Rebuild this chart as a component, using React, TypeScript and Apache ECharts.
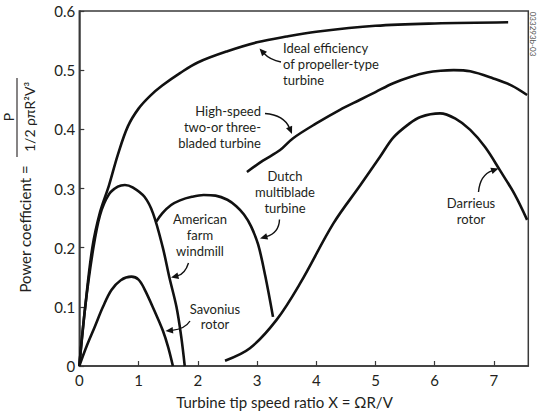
import React, { useEffect, useRef } from "react";
import * as echarts from "echarts";

// ---- data ----
const idealX = [0, 0.1, 0.22, 0.35, 0.5, 0.65, 0.82, 1.0, 1.2, 1.4, 1.7, 2.0, 2.5, 3.0, 3.5, 4.0, 5.0, 6.0, 7.24];
const idealY = [0, 0.1, 0.2, 0.26, 0.305, 0.357, 0.405, 0.435, 0.457, 0.474, 0.495, 0.513, 0.532, 0.547, 0.557, 0.565, 0.575, 0.579, 0.581];

const highX = [2.83, 3.1, 3.39, 3.61, 4.0, 4.4, 4.74, 5.0, 5.3, 5.6, 5.87, 6.1, 6.32, 6.6, 6.99, 7.3, 7.56];
const highY = [0.328, 0.347, 0.365, 0.385, 0.41, 0.433, 0.45, 0.463, 0.478, 0.489, 0.496, 0.499, 0.5, 0.498, 0.486, 0.474, 0.458];

const americanX = [0, 0.1, 0.23, 0.35, 0.5, 0.65, 0.77, 0.9, 1.1, 1.245, 1.41, 1.52, 1.64, 1.72, 1.78];
const americanY = [0, 0.1, 0.195, 0.255, 0.29, 0.303, 0.306, 0.302, 0.286, 0.258, 0.2, 0.15, 0.1, 0.05, 0];

const savoniusX = [0, 0.13, 0.26, 0.4, 0.54, 0.7, 0.88, 1.0, 1.1, 1.27, 1.41, 1.5, 1.58];
const savoniusY = [0, 0.035, 0.066, 0.1, 0.128, 0.145, 0.151, 0.146, 0.13, 0.093, 0.06, 0.032, 0];

const dutchX = [1.3, 1.4, 1.55, 1.7, 1.9, 2.1, 2.3, 2.5, 2.65, 2.78, 2.9, 3.02, 3.14, 3.27];
const dutchY = [0.244, 0.258, 0.272, 0.28, 0.286, 0.289, 0.288, 0.281, 0.27, 0.256, 0.236, 0.205, 0.152, 0.083];

const darrieusX = [2.46, 2.88, 3.33, 3.73, 4.29, 4.74, 5.08, 5.3, 5.55, 5.76, 6.09, 6.35, 6.6, 6.85, 7.1, 7.35, 7.56];
const darrieusY = [0.009, 0.03, 0.078, 0.14, 0.241, 0.305, 0.354, 0.386, 0.408, 0.421, 0.427, 0.418, 0.399, 0.37, 0.331, 0.29, 0.247];

const xAxisMax = 7.58;
const yAxisMax = 0.6;

const FONT = "Lato, 'Noto Sans', 'DejaVu Sans', sans-serif";
const INK = "#231f20";
const NOTE_SIZE = 13;
const NOTE_LINE = 15.6;

const pairs = (xs: number[], ys: number[]) => xs.map((x, i) => [x, ys[i]]);

function arrow(x1: number, y1: number, cx: number, cy: number, x2: number, y2: number) {
  const ang = Math.atan2(y2 - cy, x2 - cx);
  const L = 7.5;
  const W = 3.3;
  const c = Math.cos(ang);
  const s = Math.sin(ang);
  const bx = x2 - L * c;
  const by = y2 - L * s;
  return [
    {
      type: "bezierCurve",
      shape: { x1, y1, x2: bx + c * 1, y2: by + s * 1, cpx1: cx, cpy1: cy },
      style: { stroke: "#111", lineWidth: 1.4, fill: null },
      silent: true,
    },
    {
      type: "polygon",
      shape: { points: [[x2, y2], [bx - W * s, by + W * c], [bx + W * s, by - W * c]] },
      style: { fill: "#111" },
      silent: true,
    },
  ];
}

function label(text: string, x: number, y: number, align: string = "center", size = NOTE_SIZE) {
  return {
    type: "text",
    x,
    y,
    silent: true,
    style: {
      text,
      fill: INK,
      font: `${size}px ${FONT}`,
      fontSize: size,
      fontFamily: FONT,
      lineHeight: NOTE_LINE,
      align,
      textAlign: align,
      verticalAlign: "middle",
      textVerticalAlign: "middle",
    },
  };
}

function rotLabel(text: string, x: number, y: number, size: number, rotation: number, color = INK) {
  return {
    type: "text",
    x,
    y,
    rotation,
    silent: true,
    style: {
      text,
      fill: color,
      font: `${size}px ${FONT}`,
      fontSize: size,
      fontFamily: FONT,
      align: "center",
      textAlign: "center",
      verticalAlign: "middle",
      textVerticalAlign: "middle",
    },
  };
}

export default function App() {
  const ref = useRef<HTMLDivElement>(null);

  useEffect(() => {
    if (!ref.current) return;
    const chart = echarts.init(ref.current, undefined, { renderer: "svg" });

    const lineSeries = (name: string, xs: number[], ys: number[]) => ({
      name,
      type: "line",
      data: pairs(xs, ys),
      smooth: 0.35,
      showSymbol: false,
      symbol: "none",
      lineStyle: { color: "#111", width: 2.6 },
      silent: true,
    });

    const graphic: any[] = [
      // y-axis title
      rotLabel("Power coefficient =", 25, 229, 15, Math.PI / 2),
      rotLabel("P", 8, 117, 14, Math.PI / 2),
      { type: "line", shape: { x1: 17, y1: 78, x2: 17, y2: 157 }, style: { stroke: INK, lineWidth: 1.1 }, silent: true },
      rotLabel("1/2 ρπR²V³", 29, 117, 14, Math.PI / 2),
      // x-axis title
      label("Turbine tip speed ratio X = ΩR/V", 284.5, 402, "center", 15),
      // figure id
      rotLabel("033293b-03", 533, 34, 8, -Math.PI / 2, "#555"),
      // annotations
      label("Ideal efficiency\nof propeller-type\nturbine", 283, 64, "left"),
      label("High-speed\ntwo-or three-\nbladed turbine", 261, 127, "right"),
      label("American\nfarm\nwindmill", 200, 235, "center"),
      label("Savonius\nrotor", 215, 316.3, "center"),
      label("Dutch\nmultiblade\nturbine", 285, 192, "center"),
      label("Darrieus\nrotor", 471, 210.8, "center"),
      ...arrow(281, 62, 270, 60, 259.5, 48.5),
      ...arrow(265, 113.5, 284, 115, 292, 134),
      ...arrow(188.5, 263, 185, 274, 171, 277.5),
      ...arrow(190, 321, 185, 329, 165.5, 331),
      ...arrow(279.5, 219.5, 279, 233, 260, 238.5),
      ...arrow(478.5, 192, 480, 175, 498.5, 168.5),
    ];

    const axisText = { color: INK, fontSize: 15, fontFamily: FONT };

    chart.setOption({
      animation: false,
      backgroundColor: "#ffffff",
      grid: {
        left: 79.3,
        right: 540 - 528.3,
        top: 11,
        bottom: 414 - 366,
        show: true,
        borderColor: "#3a3a3a",
        borderWidth: 1.5,
        backgroundColor: "transparent",
      },
      xAxis: {
        type: "value",
        min: 0,
        max: xAxisMax,
        interval: 1,
        axisLine: { show: true, lineStyle: { color: "#3a3a3a", width: 1.5 } },
        axisTick: { show: true, inside: true, length: 5, lineStyle: { color: "#3a3a3a", width: 1.2 } },
        axisLabel: {
          ...axisText,
          margin: 6,
          showMaxLabel: false,
          formatter: (v: number) => (Number.isInteger(v) ? String(v) : ""),
        },
        splitLine: { show: false },
      },
      yAxis: {
        type: "value",
        min: 0,
        max: yAxisMax,
        interval: 0.1,
        axisLine: { show: true, lineStyle: { color: "#3a3a3a", width: 1.5 } },
        axisTick: { show: true, inside: true, length: 5, lineStyle: { color: "#3a3a3a", width: 1.2 } },
        axisLabel: {
          ...axisText,
          margin: 4,
          formatter: (v: number) => (Math.abs(v) < 1e-9 ? "0" : v.toFixed(1)),
        },
        splitLine: { show: false },
      },
      series: [
        lineSeries("Ideal efficiency of propeller-type turbine", idealX, idealY),
        lineSeries("High-speed two-or three-bladed turbine", highX, highY),
        lineSeries("American farm windmill", americanX, americanY),
        lineSeries("Savonius rotor", savoniusX, savoniusY),
        lineSeries("Dutch multiblade turbine", dutchX, dutchY),
        lineSeries("Darrieus rotor", darrieusX, darrieusY),
      ],
      graphic,
    });

    return () => chart.dispose();
  }, []);

  return (
    <div
      ref={ref}
      style={{ position: "absolute", left: 0, top: 0, width: 540, height: 414, background: "#fff" }}
    />
  );
}
